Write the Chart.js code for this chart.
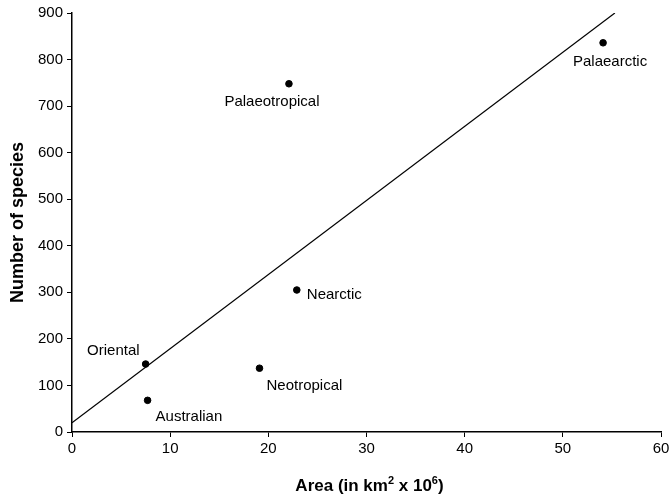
<!DOCTYPE html>
<html>
<head>
<meta charset="utf-8">
<script src="https://cdn.jsdelivr.net/npm/chart.js@4"></script>
<style>
  html, body { margin: 0; padding: 0; background: #fff; }
  #wrap { width: 669px; height: 496px; }
</style>
</head>
<body>
<div id="wrap"><canvas id="speciesChart"></canvas></div>
<script>
/* ========== Data ========== */
const regions = ["Palaeotropical", "Palaearctic", "Nearctic", "Oriental", "Australian", "Neotropical"];
const areas = [22.1, 54.1, 22.9, 7.5, 7.7, 19.1];
const species = [748, 836, 305, 146, 68, 137];
const fitX = [0, 55.3];
const fitY = [20, 900];
const xTicks = [0, 10, 20, 30, 40, 50, 60];
const yTicks = [0, 100, 200, 300, 400, 500, 600, 700, 800, 900];

// where each name sits relative to its point
const labelPos = {
  "Palaeotropical": { dx: -17, dy: 18, align: "center" },
  "Palaearctic":    { dx: 7,   dy: 19, align: "center" },
  "Nearctic":       { dx: 10,  dy: 5,  align: "left" },
  "Oriental":       { dx: -6,  dy: -13, align: "right" },
  "Australian":     { dx: 8,   dy: 17, align: "left" },
  "Neotropical":    { dx: 7,   dy: 18, align: "left" }
};

const FONT = "'Liberation Sans', Arial, sans-serif";

/* ========== Point labels + x title with superscripts ========== */
const pointLabels = {
  id: "pointLabels",
  afterDatasetsDraw(chart) {
    const { ctx, scales, chartArea } = chart;
    ctx.save();
    ctx.font = "15px " + FONT;
    ctx.fillStyle = "#000";
    ctx.textBaseline = "middle";
    regions.forEach((name, i) => {
      const p = labelPos[name];
      ctx.textAlign = p.align;
      ctx.fillText(name, scales.x.getPixelForValue(areas[i]) + p.dx, scales.y.getPixelForValue(species[i]) + p.dy);
    });

    // x axis title: Area (in km2 x 10^6)
    const parts = [
      { t: "Area (in km", sup: false },
      { t: "2", sup: true },
      { t: " x 10", sup: false },
      { t: "6", sup: true },
      { t: ")", sup: false }
    ];
    const big = "bold 17px " + FONT, small = "bold 11px " + FONT;
    let total = 0;
    parts.forEach(p => { ctx.font = p.sup ? small : big; p.w = ctx.measureText(p.t).width; total += p.w; });
    let x = (chartArea.left + chartArea.right) / 2 + 3 - total / 2;
    const base = chart.height - 5;
    ctx.textAlign = "left";
    ctx.textBaseline = "alphabetic";
    parts.forEach(p => {
      ctx.font = p.sup ? small : big;
      ctx.fillText(p.t, x, p.sup ? base - 7 : base);
      x += p.w;
    });
    ctx.restore();
  }
};

const ctx = document.getElementById("speciesChart").getContext("2d");
new Chart(ctx, {
  type: "scatter",
  data: {
    datasets: [
      {
        label: "Regions",
        data: areas.map((a, i) => ({ x: a, y: species[i] })),
        backgroundColor: "#000",
        borderColor: "#000",
        pointRadius: 3.3,
        pointHoverRadius: 3.3
      },
      {
        label: "Fit",
        data: fitX.map((x, i) => ({ x: x, y: fitY[i] })),
        showLine: true,
        borderColor: "#000",
        borderWidth: 1.2,
        pointRadius: 0,
        fill: false
      }
    ]
  },
  options: {
    responsive: true,
    maintainAspectRatio: false,
    animation: false,
    layout: { padding: { top: 13, right: 8, left: 0, bottom: 0 } },
    plugins: {
      legend: { display: false },
      tooltip: { enabled: false }
    },
    scales: {
      x: {
        type: "linear",
        min: 0,
        max: 60,
        afterBuildTicks: axis => { axis.ticks = xTicks.map(v => ({ value: v })); },
        afterFit: axis => { axis.height = 64; axis.paddingLeft = 0; axis.paddingRight = 0; },
        border: { color: "#000", width: 1.5 },
        grid: { drawOnChartArea: false, drawTicks: true, tickLength: 5, color: "#000" },
        ticks: { color: "#000", font: { family: FONT, size: 15 }, padding: 3 },
        title: { display: false }
      },
      y: {
        type: "linear",
        min: 0,
        max: 900,
        afterBuildTicks: axis => { axis.ticks = yTicks.map(v => ({ value: v })); },
        afterFit: axis => { axis.width = 72; axis.paddingTop = 0; axis.paddingBottom = 0; },
        border: { color: "#000", width: 1.5 },
        grid: { drawOnChartArea: false, drawTicks: true, tickLength: 5, color: "#000" },
        ticks: { color: "#000", font: { family: FONT, size: 15 }, padding: 4 },
        title: {
          display: true,
          text: "Number of species",
          color: "#000",
          font: { family: FONT, size: 18, weight: "bold" },
          padding: { top: 7, bottom: 4 }
        }
      }
    }
  },
  plugins: [pointLabels]
});
</script>
</body>
</html>
